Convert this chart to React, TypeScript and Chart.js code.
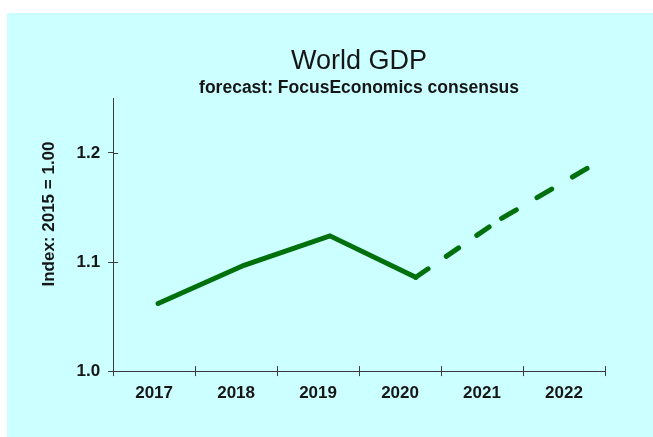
import React, { useEffect, useRef } from "react";
import { Chart, registerables } from "chart.js";

Chart.register(...registerables);

const years = ["2017", "2018", "2019", "2020", "2021", "2022"];
const gdpIndex = [1.062, 1.097, 1.124, 1.086, 1.140, 1.186];
const yTickValues = [1.0, 1.1, 1.2];
const forecastStartIndex = 3; // dashed from 2020 onward

const FONT = "'Liberation Sans', Arial, Helvetica, sans-serif";
const AXIS_COLOR = "#3a3a3a";
const TEXT_COLOR = "#161616";
const LINE_COLOR = "#00700c";

const extrasPlugin = {
  id: "extras",
  afterDraw(chart: any) {
    const ctx = chart.ctx;
    const xs = chart.scales.x;
    const ys = chart.scales.y;
    ctx.save();
    ctx.strokeStyle = AXIS_COLOR;
    ctx.lineWidth = 1;
    ctx.beginPath();
    ys.ticks.forEach((t: any) => {
      const py = Math.round(ys.getPixelForValue(t.value)) + 0.5;
      ctx.moveTo(ys.right, py);
      ctx.lineTo(ys.right + 5, py);
    });
    const n = years.length;
    for (let i = 0; i <= n; i++) {
      const px = Math.round(xs.left + (i * xs.width) / n) + 0.5;
      ctx.moveTo(px, xs.top);
      ctx.lineTo(px, xs.top - 5);
    }
    ctx.stroke();
    ctx.fillStyle = TEXT_COLOR;
    ctx.font = `bold 17px ${FONT}`;
    ctx.textAlign = "center";
    ctx.textBaseline = "middle";
    ctx.translate(49, 214);
    ctx.rotate(-Math.PI / 2);
    ctx.fillText("Index: 2015 = 1.00", 0, 0);
    ctx.restore();
  },
};

export default function App() {
  const canvasRef = useRef<HTMLCanvasElement | null>(null);

  useEffect(() => {
    if (!canvasRef.current) return;
    const chart = new Chart(canvasRef.current, {
      type: "line",
      data: {
        labels: years,
        datasets: [
          {
            label: "World GDP",
            xAxisID: "xl",
            yAxisID: "y",
            data: years.map((_, i) => ({ x: i, y: gdpIndex[i] })),
            borderColor: LINE_COLOR,
            borderWidth: 5,
            borderCapStyle: "round",
            borderJoinStyle: "miter",
            pointRadius: 0,
            fill: false,
            tension: 0,
            segment: {
              borderDash: (c: any) =>
                c.p0DataIndex < forecastStartIndex
                  ? undefined
                  : c.p0DataIndex === forecastStartIndex
                  ? [15, 22]
                  : [17, 24],
              borderDashOffset: (c: any) =>
                c.p0DataIndex >= forecastStartIndex ? c.p0DataIndex * 0.0001 : undefined,
            },
          } as any,
        ],
      },
      options: {
        animation: false,
        responsive: false,
        events: [],
        layout: { padding: { top: 45, left: 68.5, right: 48, bottom: 26.5 } },
        plugins: {
          legend: { display: false },
          tooltip: { enabled: false },
          title: {
            display: true,
            text: "World GDP",
            fullSize: false,
            color: TEXT_COLOR,
            font: { family: FONT, size: 27, weight: "normal", lineHeight: 1.2 },
            padding: { top: 0, bottom: 0 },
          },
          subtitle: {
            display: true,
            text: "forecast: FocusEconomics consensus",
            fullSize: false,
            color: TEXT_COLOR,
            font: { family: FONT, size: 17.5, weight: "bold", lineHeight: 1.2 },
            padding: { top: 0, bottom: 0 },
          },
        },
        scales: {
          x: {
            type: "category",
            offset: true,
            grid: {
              offset: true,
              drawOnChartArea: false,
              tickLength: 5,
              color: AXIS_COLOR,
              lineWidth: 1,
            },
            border: { color: AXIS_COLOR, width: 1 },
            ticks: {
              color: TEXT_COLOR,
              font: { family: FONT, size: 17, weight: "bold" },
              padding: 7,
              maxRotation: 0,
              autoSkip: false,
            },
          },
          xl: {
            type: "linear",
            display: false,
            position: "bottom",
            min: -0.524,
            max: 5.204,
          },
          y: {
            type: "linear",
            min: 1.0,
            max: 1.25,
            afterBuildTicks: (s: any) => {
              s.ticks = yTickValues.map((v) => ({ value: v }));
            },
            grid: {
              drawOnChartArea: false,
              tickLength: 5,
              color: AXIS_COLOR,
              lineWidth: 1,
            },
            border: { color: AXIS_COLOR, width: 1 },
            ticks: {
              color: TEXT_COLOR,
              font: { family: FONT, size: 17, weight: "bold" },
              padding: 8,
              callback: (v: any) => Number(v).toFixed(1),
            },
          },
        },
      } as any,
      plugins: [extrasPlugin],
    });
    return () => chart.destroy();
  }, []);

  return (
    <div
      style={{
        position: "absolute",
        left: 0,
        top: 0,
        width: 653,
        height: 437,
        background: "#ffffff",
        overflow: "hidden",
      }}
    >
      <div
        style={{
          position: "absolute",
          left: 7,
          top: 13,
          right: 0,
          bottom: 0,
          background: "#ccffff",
        }}
      />
      <canvas
        ref={canvasRef}
        width={653}
        height={437}
        style={{ position: "absolute", left: 0, top: 0, width: 653, height: 437 }}
      />
    </div>
  );
}
